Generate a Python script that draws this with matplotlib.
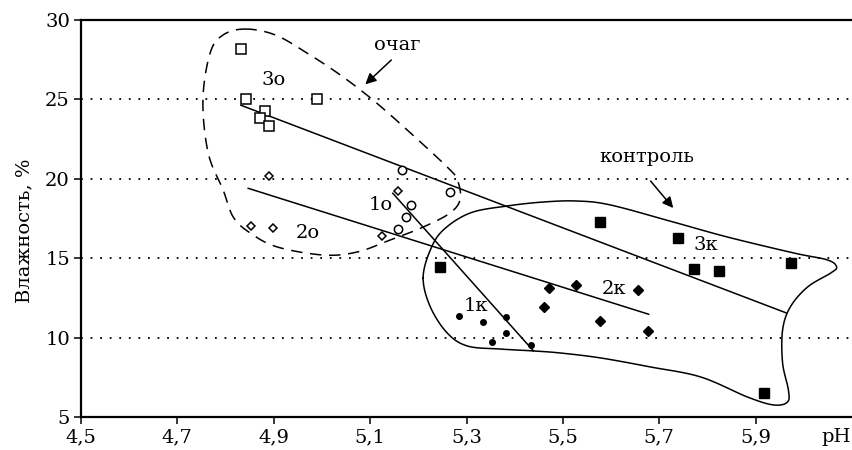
import numpy as np
import matplotlib
matplotlib.use("Agg")
import matplotlib.pyplot as plt

plt.rcParams['font.family'] = ['DejaVu Serif']
plt.rcParams['path.simplify'] = False

# 1 - circles, 2 - diamonds, 3 - squares; "о" - очаг (open), "к" - контроль (filled)
ph_1o = [5.166, 5.266, 5.185, 5.175, 5.157]
hum_1o = [20.55, 19.17, 18.33, 17.57, 16.82]
ph_2o = [4.890, 5.157, 4.852, 4.899, 5.125]
hum_2o = [20.16, 19.21, 17.00, 16.88, 16.40]
ph_3o = [4.831, 4.842, 4.882, 4.871, 4.891, 4.990]
hum_3o = [28.2, 25.0, 24.27, 23.84, 23.3, 25.0]

ph_1k = [5.284, 5.334, 5.383, 5.352, 5.383, 5.434]
hum_1k = [11.34, 10.98, 11.32, 9.74, 10.27, 9.51]
ph_2k = [5.471, 5.528, 5.460, 5.578, 5.656, 5.676]
hum_2k = [13.10, 13.29, 11.90, 11.03, 12.98, 10.40]
ph_3k = [5.244, 5.577, 5.738, 5.772, 5.824, 5.973, 5.918]
hum_3k = [14.43, 17.28, 16.25, 14.30, 14.21, 14.72, 6.49]

# regression lines (start, end)
line_1_ph = [5.147, 5.439]
line_1_hum = [19.09, 9.16]
line_2_ph = [4.847, 5.678]
line_2_hum = [19.40, 11.47]
line_3_ph = [4.832, 5.964]
line_3_hum = [24.63, 11.55]

# outlines of the groups
ochag_ph = [4.841, 4.903, 4.969, 5.038, 5.106, 5.177, 5.260, 5.281, 5.287, 5.266,
            5.210, 5.142, 5.073, 5.003, 4.907, 4.851, 4.816, 4.795, 4.764, 4.753,
            4.768, 4.795]
ochag_hum = [29.43, 29.06, 27.92, 26.54, 24.96, 23.07, 20.74, 19.92, 18.73, 17.85,
             16.96, 16.15, 15.39, 15.20, 15.71, 16.59, 17.59, 19.29, 21.62, 24.96,
             27.92, 29.06]
control_ph = [5.210, 5.225, 5.252, 5.308, 5.385, 5.460, 5.530, 5.599, 5.729,
              5.842, 5.979, 6.049, 6.068, 6.056, 6.008, 5.972, 5.956, 5.956, 5.968,
              5.966, 5.937, 5.883, 5.786, 5.682, 5.578, 5.495, 5.439, 5.370, 5.302,
              5.260, 5.225]
control_hum = [13.75, 15.52, 16.78, 17.85, 18.29, 18.54, 18.60, 18.35, 17.28,
               16.33, 15.33, 14.89, 14.45, 14.07, 13.19, 11.93, 10.48, 8.40, 6.70,
               5.94, 5.76, 6.26, 7.52, 8.15, 8.72, 9.03, 9.16, 9.28, 9.47,
               10.29, 11.93]

x_ticks = [4.5, 4.7, 4.9, 5.1, 5.3, 5.5, 5.7, 5.9]
x_tick_labels = ['4,5', '4,7', '4,9', '5,1', '5,3', '5,5', '5,7', '5,9']
y_ticks = [5, 10, 15, 20, 25, 30]


def smooth_outline(xs, ys, steps=20):
    # closed catmull-rom curve through the traced outline points
    pts = np.column_stack([xs, ys])
    n = len(pts)
    t = np.linspace(0, 1, steps, endpoint=False)[:, None]
    out = []
    for i in range(n):
        p0, p1, p2, p3 = pts[i - 1], pts[i], pts[(i + 1) % n], pts[(i + 2) % n]
        c1 = p1 + (p2 - p0) / 6
        c2 = p2 - (p3 - p1) / 6
        seg = ((1 - t) ** 3 * p1 + 3 * (1 - t) ** 2 * t * c1
               + 3 * (1 - t) * t ** 2 * c2 + t ** 3 * p2)
        out.append(seg)
    out.append(pts[:1])
    out = np.vstack(out)
    return out[:, 0], out[:, 1]


fig = plt.figure(figsize=(8.52, 4.5), dpi=100)
ax = fig.add_axes([81 / 852, 33 / 450, 771 / 852, 397 / 450])

for y in [10, 15, 20, 25]:
    ax.axhline(y, color='black', lw=1.3, ls=(0, (1, 4.3)), zorder=1)

ox, oy = smooth_outline(ochag_ph, ochag_hum)
ax.plot(ox, oy, color='black', lw=1.1, ls=(0, (7.5, 5)))
cx, cy = smooth_outline(control_ph, control_hum)
ax.plot(cx, cy, color='black', lw=1.1)

for lx, ly in [(line_1_ph, line_1_hum), (line_2_ph, line_2_hum), (line_3_ph, line_3_hum)]:
    ax.plot(lx, ly, color='black', lw=1.1)

ax.plot(ph_1o, hum_1o, 'o', ms=6, mfc='white', mec='black', mew=1.1)
ax.plot(ph_2o, hum_2o, 'D', ms=4.5, mfc='white', mec='black', mew=1.1)
ax.plot(ph_3o, hum_3o, 's', ms=6.5, mfc='white', mec='black', mew=1.1)
ax.plot(ph_1k, hum_1k, 'o', ms=4, color='black')
ax.plot(ph_2k, hum_2k, 'D', ms=5.5, color='black')
ax.plot(ph_3k, hum_3k, 's', ms=6.5, color='black')

fs = 14
ax.text(4.899, 26.22, '3о', fontsize=fs, ha='center', va='center')
ax.text(4.971, 16.59, '2о', fontsize=fs, ha='center', va='center')
ax.text(5.121, 18.35, '1о', fontsize=fs, ha='center', va='center')
ax.text(5.320, 11.99, '1к', fontsize=fs, ha='center', va='center')
ax.text(5.607, 13.06, '2к', fontsize=fs, ha='center', va='center')
ax.text(5.797, 15.83, '3к', fontsize=fs, ha='center', va='center')

ax.annotate('', xy=(5.090, 25.95), xytext=(5.144, 27.48),
            arrowprops=dict(arrowstyle='-|>', color='black', lw=1.1,
                            mutation_scale=16, shrinkA=0, shrinkB=0))
ax.text(5.156, 28.43, 'очаг', fontsize=fs, ha='center', va='center')
ax.annotate('', xy=(5.729, 18.16), xytext=(5.682, 19.86),
            arrowprops=dict(arrowstyle='-|>', color='black', lw=1.1,
                            mutation_scale=16, shrinkA=0, shrinkB=0))
ax.text(5.675, 21.37, 'контроль', fontsize=fs, ha='center', va='center')

ax.set_xlim(4.5, 6.1)
ax.set_ylim(5, 30)
ax.set_xticks(x_ticks)
ax.set_xticklabels(x_tick_labels)
ax.set_yticks(y_ticks)
ax.tick_params(labelsize=fs, direction='out', length=5, width=1.1, pad=3)
ax.spines['right'].set_visible(False)
for s in ['left', 'bottom', 'top']:
    ax.spines[s].set_linewidth(1.6)

fig.text(836 / 852, 1 - 437 / 450, 'pH', fontsize=fs, ha='center', va='center')
fig.text(24 / 852, 1 - 231 / 450, 'Влажность, %', fontsize=fs, rotation=90,
         ha='center', va='center')

fig.savefig('out.png', dpi=100)
